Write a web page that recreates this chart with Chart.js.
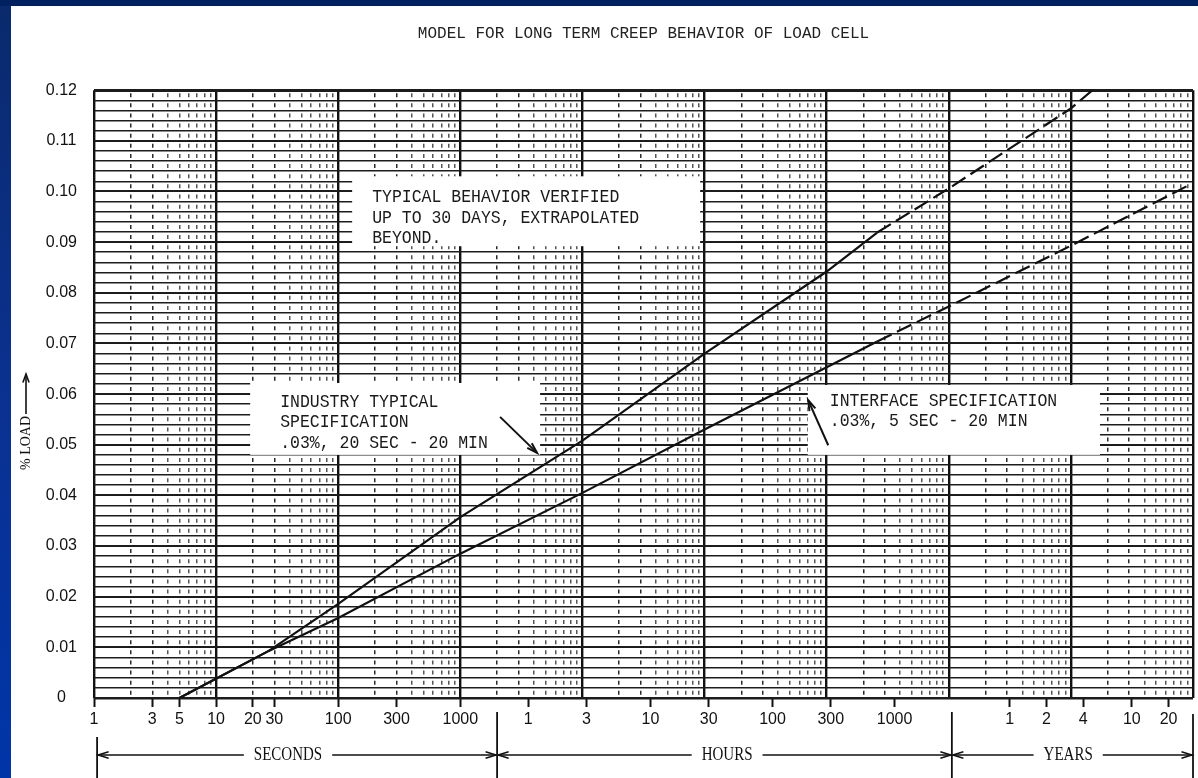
<!DOCTYPE html>
<html>
<head>
<meta charset="utf-8">
<title>Model for long term creep behavior of load cell</title>
<script src="https://cdn.jsdelivr.net/npm/chart.js@4.4.1/dist/chart.umd.min.js"></script>
<style>
  html, body { margin: 0; padding: 0; }
  body {
    width: 1198px; height: 778px; overflow: hidden; position: relative;
    background: linear-gradient(180deg, #0a2a6c 0%, #0b3190 50%, #0035a8 100%);
  }
  #topband { position: absolute; left: 0; top: 0; right: 0; height: 6px; background: #00215f; }
  #paper { position: absolute; left: 11px; top: 6px; right: 0; bottom: 0; background: #fff; }
  #chart { position: absolute; left: 0; top: 0; }
</style>
</head>
<body>
<div id="topband"></div>
<div id="paper"></div>
<canvas id="chart" width="1198" height="778"></canvas>
<script>
// time axis in seconds, log paper from 1 s to 1e9 s
const HOUR = 3600;
const YEAR = 31557600;
const verifiedUpTo = 30 * 86400; // 30 days, dashed after that

// tick labels under the axis
const secLabels = [1, 3, 5, 10, 20, 30, 100, 300, 1000];
const hourLabels = [1, 3, 10, 30, 100, 300, 1000];
const yearLabels = [1, 2, 4, 10, 20];
const loadLabels = ["0", "0.01", "0.02", "0.03", "0.04", "0.05", "0.06", "0.07", "0.08", "0.09", "0.10", "0.11", "0.12"];

// curves (time in s, % load)
const industryTime = [5, 27, 100, 1000, 1e4, 1e5, 1e6, 2.592e6, 1e7, 1e8, 1.5e8];
const industryLoad = [0, 0.0093, 0.0186, 0.0357, 0.0508, 0.068, 0.0842, 0.0919, 0.1006, 0.1164, 0.12];
const interfaceTime = [5, 27, 100, 1000, 1e4, 1e5, 1e6, 2.592e6, 1e7, 1e8, 9.5e8];
const interfaceLoad = [0, 0.0093, 0.0158, 0.0285, 0.0405, 0.053, 0.0653, 0.0704, 0.0773, 0.0893, 0.1014];

// log paper lines
const decades = [];
const minors = [];
for (let d = 0; d <= 9; d++) {
  decades.push(Math.pow(10, d));
  if (d < 9) for (let k = 2; k <= 9; k++) minors.push(k * Math.pow(10, d));
}

const timeTicks = []
  .concat(secLabels.map(v => ({ value: v, label: String(v) })))
  .concat(hourLabels.map(v => ({ value: v * HOUR, label: String(v) })))
  .concat(yearLabels.map(v => ({ value: v * YEAR, label: String(v) })));

// typed notes pasted on the paper
const notes = [
  { from: 130, to: 9.2e4, top: 0.1030, bottom: 0.0892, padX: 20, padY: 21,
    lines: ["TYPICAL BEHAVIOR VERIFIED", "UP TO 30 DAYS, EXTRAPOLATED", "BEYOND."] },
  { from: 19, to: 4500, top: 0.0622, bottom: 0.0480, padX: 30, padY: 19,
    lines: ["INDUSTRY TYPICAL", "SPECIFICATION", ".03%, 20 SEC - 20 MIN"] },
  { from: 7.0e5, to: 1.73e8, top: 0.0618, bottom: 0.0480, padX: 22, padY: 16,
    lines: ["INTERFACE SPECIFICATION", ".03%, 5 SEC - 20 MIN"] }
];
const pointers = [
  { from: [2115, 0.0555], to: [4250, 0.0484] },
  { from: [1.03e6, 0.0499], to: [7.05e5, 0.0588] }
];
const unitSpans = [
  { name: "SECONDS", from: 1.06, to: 2000, mid: 38.8 },
  { name: "HOURS", from: 2000, to: 1.06e7, mid: 1.53e5 },
  { name: "YEARS", from: 1.06e7, to: 1e9, mid: 9.5e7 }
];
const separators = [{ at: 1.06, top: 737 }, { at: 2000, top: 712 }, { at: 1.06e7, top: 712 }, { at: 1e9, top: 714 }];

Chart.defaults.font.family = "'Liberation Sans', Arial, sans-serif";

function head(ctx, x1, y1, x2, y2, len, spread) {
  const a = Math.atan2(y2 - y1, x2 - x1);
  ctx.beginPath();
  ctx.moveTo(x2 - len * Math.cos(a - spread), y2 - len * Math.sin(a - spread));
  ctx.lineTo(x2, y2);
  ctx.lineTo(x2 - len * Math.cos(a + spread), y2 - len * Math.sin(a + spread));
  ctx.stroke();
}

const paperPlugin = {
  id: "paper",
  beforeDatasetsDraw(chart) {
    const ctx = chart.ctx, x = chart.scales.x, y = chart.scales.y;
    ctx.save();
    ctx.fillStyle = "#fff";
    notes.forEach(n => {
      const l = x.getPixelForValue(n.from), r = x.getPixelForValue(n.to);
      const t = y.getPixelForValue(n.top), b = y.getPixelForValue(n.bottom);
      ctx.fillRect(l, t, r - l, b - t);
    });
    ctx.restore();
  },
  afterDatasetsDraw(chart) {
    const ctx = chart.ctx, x = chart.scales.x, y = chart.scales.y;
    ctx.save();
    ctx.fillStyle = "#1a1a1a";
    ctx.font = "16px 'Liberation Mono', monospace";
    ctx.textBaseline = "middle";
    notes.forEach(n => {
      const l = x.getPixelForValue(n.from), t = y.getPixelForValue(n.top);
      n.lines.forEach((s, i) => {
        ctx.save();
        ctx.translate(l + n.padX, t + n.padY + i * 20.5);
        ctx.scale(1.03, 1.15);
        ctx.fillText(s, 0, 0);
        ctx.restore();
      });
    });
    ctx.strokeStyle = "#111";
    ctx.lineWidth = 2;
    pointers.forEach(p => {
      const x1 = x.getPixelForValue(p.from[0]), y1 = y.getPixelForValue(p.from[1]);
      const x2 = x.getPixelForValue(p.to[0]), y2 = y.getPixelForValue(p.to[1]);
      ctx.beginPath(); ctx.moveTo(x1, y1); ctx.lineTo(x2, y2); ctx.stroke();
      head(ctx, x1, y1, x2, y2, 11, 0.3);
    });
    ctx.restore();
  },
  afterDraw(chart) {
    const ctx = chart.ctx, x = chart.scales.x;
    ctx.save();
    ctx.strokeStyle = "#111";
    ctx.fillStyle = "#111";
    // y axis title with arrow
    ctx.save();
    ctx.translate(26, 470);
    ctx.rotate(-Math.PI / 2);
    ctx.font = "14px 'Liberation Serif', serif";
    ctx.textBaseline = "middle";
    ctx.fillText("% LOAD", 0, 0);
    const w = ctx.measureText("% LOAD").width;
    ctx.lineWidth = 1.6;
    ctx.beginPath(); ctx.moveTo(w + 2, 0); ctx.lineTo(96, 0); ctx.stroke();
    head(ctx, 0, 0, 96, 0, 9, 0.35);
    ctx.restore();

    // unit row under the time axis
    ctx.lineWidth = 1.8;
    separators.forEach(s => {
      const px = x.getPixelForValue(s.at);
      ctx.beginPath(); ctx.moveTo(px, s.top); ctx.lineTo(px, 778); ctx.stroke();
    });
    const rowY = 755;
    ctx.font = "15px 'Liberation Serif', serif";
    ctx.textBaseline = "middle";
    ctx.textAlign = "center";
    ctx.lineWidth = 1.5;
    unitSpans.forEach(u => {
      const l = x.getPixelForValue(u.from) + 1, r = x.getPixelForValue(u.to) - 1;
      const m = x.getPixelForValue(u.mid);
      const tw = ctx.measureText(u.name).width;
      ctx.save();
      ctx.translate(m, rowY);
      ctx.scale(1, 1.25);
      ctx.fillText(u.name, 0, 0);
      ctx.restore();
      ctx.beginPath(); ctx.moveTo(l, rowY); ctx.lineTo(m - tw / 2 - 10, rowY); ctx.stroke();
      ctx.beginPath(); ctx.moveTo(m + tw / 2 + 10, rowY); ctx.lineTo(r, rowY); ctx.stroke();
      head(ctx, m, rowY, l, rowY, 11, 0.3);
      head(ctx, m, rowY, r, rowY, 11, 0.3);
    });
    ctx.restore();
  }
};

function curve(times, loads) {
  return times.map((t, i) => ({ x: t, y: loads[i] }));
}

const dashAfterVerified = c => (c.p0.parsed.x >= verifiedUpTo - 1 ? [16, 6] : undefined);

new Chart(document.getElementById("chart"), {
  type: "line",
  data: {
    datasets: [
      {
        label: "Industry typical specification",
        data: curve(industryTime, industryLoad),
        borderColor: "#111",
        borderWidth: 2.2,
        pointRadius: 0,
        tension: 0,
        segment: { borderDash: dashAfterVerified }
      },
      {
        label: "Interface specification",
        data: curve(interfaceTime, interfaceLoad),
        borderColor: "#111",
        borderWidth: 2.2,
        pointRadius: 0,
        tension: 0,
        segment: { borderDash: dashAfterVerified }
      }
    ]
  },
  options: {
    responsive: false,
    animation: false,
    devicePixelRatio: 1,
    layout: { padding: { left: 28, right: 5, top: 0, bottom: 0 } },
    plugins: {
      legend: { display: false },
      tooltip: { enabled: false },
      title: {
        display: true,
        fullSize: false,
        text: "MODEL FOR LONG TERM CREEP BEHAVIOR OF LOAD CELL",
        color: "#222",
        font: { family: "'Liberation Mono', monospace", size: 16, weight: "normal" },
        padding: { top: 24, bottom: 47 }
      }
    },
    scales: {
      x: {
        type: "logarithmic",
        position: "bottom",
        weight: -2,
        min: 1,
        max: 1e9,
        afterBuildTicks: s => { s.ticks = decades.map(v => ({ value: v })); },
        afterFit: s => { s.height = 0; },
        ticks: { display: false },
        grid: { color: "#111", lineWidth: 2.4, drawTicks: false },
        border: { display: false }
      },
      xMinor: {
        type: "logarithmic",
        position: "bottom",
        weight: -1,
        min: 1,
        max: 1e9,
        afterBuildTicks: s => { s.ticks = minors.map(v => ({ value: v })); },
        afterFit: s => { s.height = 0; },
        ticks: { display: false },
        grid: {
          drawTicks: false,
          lineWidth: 1.5,
          color: c => {
            const v = c.tick.value;
            const k = Math.round(v / Math.pow(10, Math.floor(Math.log10(v) + 1e-9)));
            return k <= 3 ? "#2a2a2a" : "#555";
          }
        },
        border: { display: false, dash: [4, 6.13], dashOffset: -3 }
      },
      xt: {
        type: "logarithmic",
        position: "bottom",
        weight: 0,
        min: 1,
        max: 1e9,
        afterBuildTicks: s => { s.ticks = timeTicks.map(t => ({ value: t.value })); },
        afterFit: s => { s.height = 80; },
        ticks: {
          autoSkip: false,
          maxRotation: 0,
          padding: 3,
          color: "#111",
          font: { size: 16 },
          callback: (v, i) => timeTicks[i].label
        },
        grid: { drawOnChartArea: false, drawTicks: true, tickLength: 9, tickWidth: 2, tickColor: "#111" },
        border: { display: false }
      },
      y: {
        type: "linear",
        min: 0,
        max: 0.12,
        afterBuildTicks: s => {
          const t = [];
          for (let i = 0; i <= 60; i++) t.push({ value: i * 0.002 });
          s.ticks = t;
        },
        afterFit: s => { s.width = 66; },
        ticks: {
          autoSkip: false,
          crossAlign: "center",
          padding: 17,
          color: "#111",
          font: { size: 16 },
          callback: (v, i) => (i % 5 === 0 ? loadLabels[i / 5] : "")
        },
        grid: {
          drawTicks: false,
          color: "#1c1c1c",
          lineWidth: c => (c.index === 60 ? 3 : c.index === 0 ? 2.5 : c.index % 5 === 0 ? 2 : 1.6)
        },
        border: { display: false }
      }
    }
  },
  plugins: [paperPlugin]
});
</script>
</body>
</html>
